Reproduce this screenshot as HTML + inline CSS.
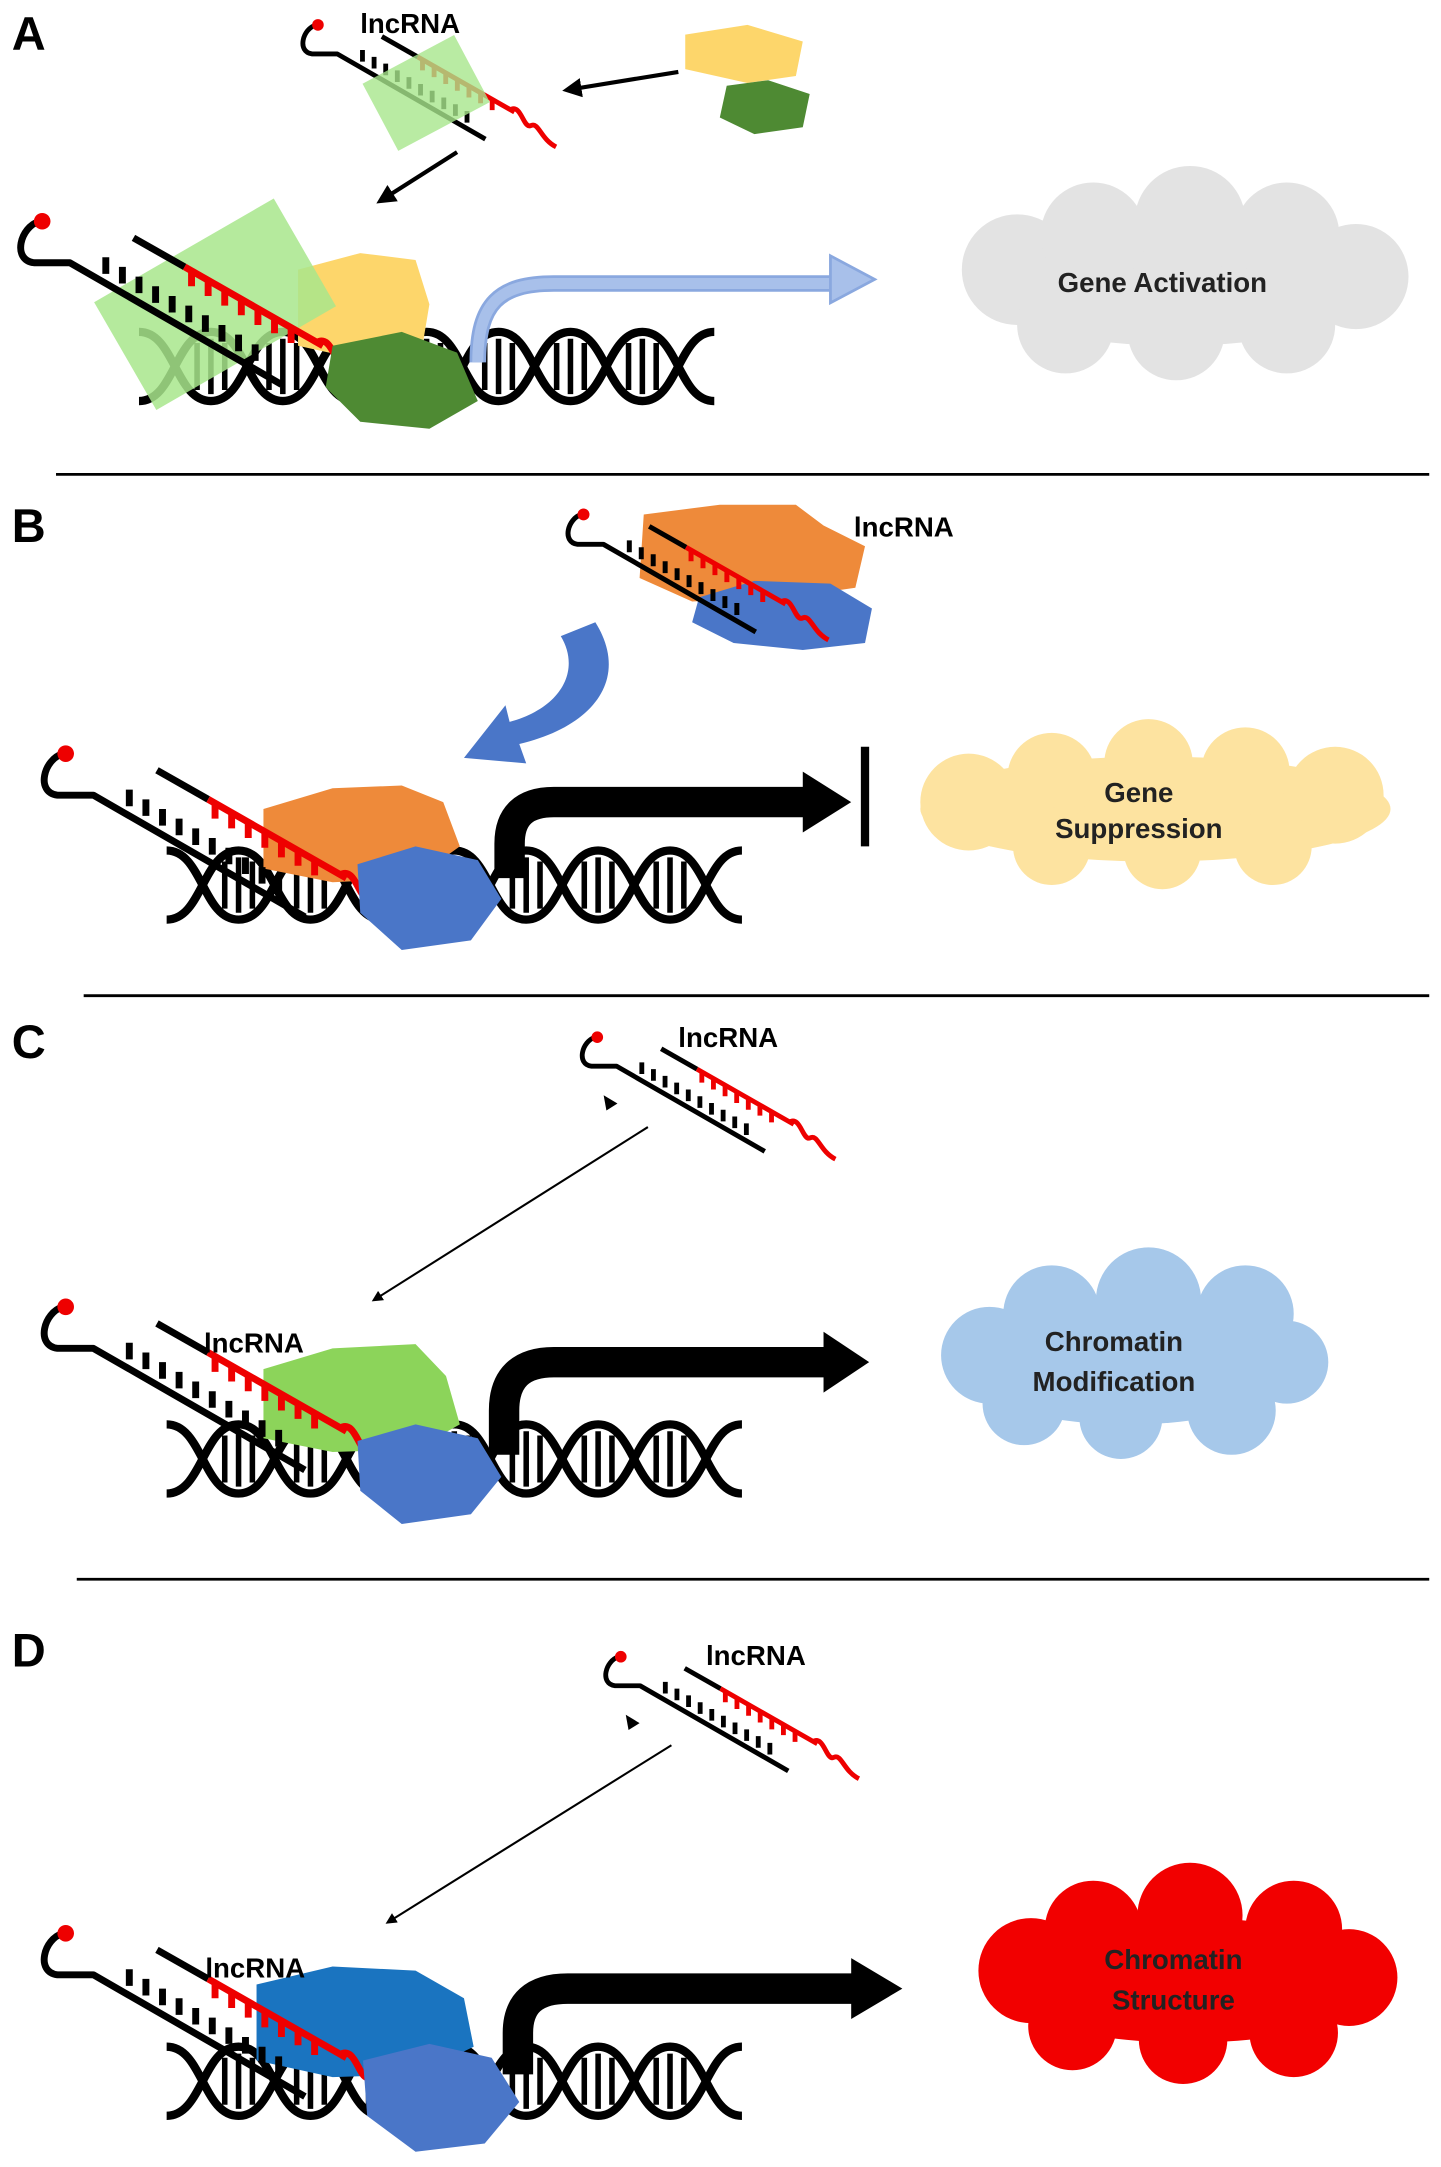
<!DOCTYPE html>
<html><head><meta charset="utf-8"><style>
html,body{margin:0;padding:0;background:#fff}
svg{display:block}
text{font-family:"Liberation Sans",sans-serif;font-weight:bold}
</style></head><body>
<svg width="1441" height="2167" viewBox="0 0 1041 1567" xmlns="http://www.w3.org/2000/svg">
<defs>
<g id="dna">
<path d="M0,-25 C26,-25 26,25 52,25 C78,25 78,-25 104,-25 C130,-25 130,25 156,25 C182,25 182,-25 208,-25 C234,-25 234,25 260,25 C286,25 286,-25 312,-25 C338,-25 338,25 364,25 C390,25 390,-25 416,-25" fill="none" stroke="#000" stroke-width="6"/>
<path d="M0,25 C26,25 26,-25 52,-25 C78,-25 78,25 104,25 C130,25 130,-25 156,-25 C182,-25 182,25 208,25 C234,25 234,-25 260,-25 C286,-25 286,25 312,25 C338,25 338,-25 364,-25 C390,-25 390,25 416,25" fill="none" stroke="#000" stroke-width="6"/>
<g stroke="#000" stroke-width="4">
<path d="M42,-17V17M52,-20V20M62,-17V17M94,-17V17M104,-20V20M114,-17V17M146,-17V17M156,-20V20M166,-17V17M198,-17V17M208,-20V20M218,-17V17M250,-17V17M260,-20V20M270,-17V17M302,-17V17M312,-20V20M322,-17V17M354,-17V17M364,-20V20M374,-17V17"/>
</g>
</g>
<g id="rna">
<path d="M0,0 C-14,4 -20,28 -4,30 L22,30 L175,118" fill="none" stroke="#000" stroke-width="5" stroke-linejoin="round"/>
<path d="M68,12 L105,33" stroke="#000" stroke-width="5"/>
<path d="M105,33 L205,90" stroke="#e00" stroke-width="5"/>
<g stroke="#e00" stroke-width="5"><path d="M110,36v11M122,43v11M134,50v11M146,57v11M158,64v11M170,70v11M182,77v11"/></g>
<g stroke="#000" stroke-width="5"><path d="M48,38v-12M60,45v-12M72,52v-12M84,59v-12M96,66v-12M108,73v-12M120,80v-12M132,87v-12M144,94v-12M156,101v-12"/></g>
<path d="M200,88 C212,80 214,108 222,104 C230,100 232,118 248,126" fill="none" stroke="#e00" stroke-width="5"/>
<circle cx="2" cy="0" r="6" fill="#e00"/>
</g>
<marker id="ah" markerWidth="8" markerHeight="8" refX="6" refY="4" orient="auto" markerUnits="userSpaceOnUse"><path d="M0,0 L8,4 L0,8 z" fill="#000"/></marker>
<marker id="ah2" markerWidth="14" markerHeight="14" refX="10" refY="7" orient="auto" markerUnits="userSpaceOnUse"><path d="M0,0 L14,7 L0,14 z" fill="#000"/></marker>
</defs>

<!-- Panel A -->
<text x="8" y="36" font-size="34">A</text>
<g transform="translate(228,18) scale(0.7)"><use href="#rna"/></g>
<rect x="270" y="40" width="75" height="55" fill="#a8e68c" opacity="0.8" transform="rotate(-28 307 67)"/>
<text x="260" y="24" font-size="20">lncRNA</text>
<path d="M495,25 L540,18 L580,30 L575,55 L540,60 L495,50 z" fill="#fdd66b"/>
<path d="M525,62 L555,58 L585,68 L580,92 L545,97 L520,85 z" fill="#4e8a33"/>
<line x1="490" y1="52" x2="410" y2="65" stroke="#000" stroke-width="3" marker-end="url(#ah2)"/>
<line x1="330" y1="110" x2="275" y2="145" stroke="#000" stroke-width="3" marker-end="url(#ah2)"/>
<g transform="translate(100,265)"><use href="#dna"/></g>
<path d="M215,195 L260,183 L300,188 L310,220 L305,250 L260,260 L215,250 z" fill="#fdd66b"/>
<rect x="80" y="175" width="150" height="90" fill="#a8e68c" opacity="0.85" transform="rotate(-30 155 220)"/>
<g transform="translate(28,160)"><use href="#rna"/></g>
<path d="M240,250 L290,240 L330,255 L345,290 L310,310 L260,305 L235,280 z" fill="#4e8a33"/>
<path d="M345,262 C345,220 360,205 400,205 L600,205" fill="none" stroke="#8aa8df" stroke-width="12"/>
<path d="M345,262 C345,220 360,205 400,205 L600,205" fill="none" stroke="#a8c0ea" stroke-width="8"/>
<path d="M600,185 L632,202 L600,219 z" fill="#a8c0ea" stroke="#8aa8df" stroke-width="2"/>
<g fill="#e3e3e3">
<ellipse cx="850" cy="205" rx="150" ry="45"/><circle cx="735" cy="195" r="40"/><circle cx="790" cy="170" r="38"/><circle cx="860" cy="160" r="40"/><circle cx="930" cy="170" r="38"/><circle cx="980" cy="200" r="38"/><circle cx="930" cy="235" r="35"/><circle cx="850" cy="240" r="35"/><circle cx="770" cy="235" r="35"/>
</g>
<text x="840" y="211" font-size="20" text-anchor="middle" fill="#222">Gene Activation</text>
<line x1="40" y1="343" x2="1033" y2="343" stroke="#000" stroke-width="2"/>

<!-- Panel B -->
<text x="8" y="392" font-size="34">B</text>
<path d="M465,372 L520,365 L575,365 L595,380 L625,395 L618,425 L570,432 L500,435 L462,418 z" fill="#ee8a3a"/>
<path d="M505,432 L545,420 L600,422 L630,440 L625,465 L580,470 L530,465 L500,450 z" fill="#4a76c8"/>
<g transform="translate(420,372) scale(0.72)"><use href="#rna"/></g>
<text x="617" y="388" font-size="20">lncRNA</text>
<path d="M430,450 C455,490 430,525 375,538 L380,552 L335,548 L365,510 L368,522 C405,512 420,485 405,460 z" fill="#4a76c8"/>
<g transform="translate(120,640)"><use href="#dna"/></g>
<path d="M190,585 L240,570 L290,568 L320,580 L332,612 L300,635 L240,638 L190,628 z" fill="#ee8a3a"/>
<g transform="translate(45,545)"><use href="#rna"/></g>
<path d="M258,625 L300,612 L345,622 L362,650 L340,680 L290,687 L260,660 z" fill="#4a76c8"/>
<path d="M368,635 L368,610 Q368,580 400,580 L585,580" fill="none" stroke="#000" stroke-width="22"/>
<path d="M580,558 L615,580 L580,602 z" fill="#000"/>
<line x1="625" y1="540" x2="625" y2="612" stroke="#000" stroke-width="6"/>
<g fill="#fde3a0">
<ellipse cx="835" cy="585" rx="170" ry="38"/><circle cx="700" cy="580" r="35"/><circle cx="760" cy="562" r="32"/><circle cx="830" cy="552" r="32"/><circle cx="900" cy="558" r="32"/><circle cx="965" cy="575" r="35"/><circle cx="920" cy="612" r="28"/><circle cx="840" cy="615" r="28"/><circle cx="760" cy="612" r="28"/>
</g>
<text x="823" y="580" font-size="20" text-anchor="middle" fill="#222">Gene</text>
<text x="823" y="606" font-size="20" text-anchor="middle" fill="#222">Suppression</text>
<line x1="60" y1="720" x2="1033" y2="720" stroke="#000" stroke-width="2"/>

<!-- Panel C -->
<text x="8" y="765" font-size="34">C</text>
<g transform="translate(430,750) scale(0.7)"><use href="#rna"/></g>
<text x="490" y="757" font-size="20">lncRNA</text>
<path d="M436,792 L446,798 L438,803 z" fill="#000"/>
<line x1="468" y1="815" x2="270" y2="940" stroke="#000" stroke-width="1.5" marker-end="url(#ah)"/>
<g transform="translate(120,1055)"><use href="#dna"/></g>
<path d="M190,990 L240,975 L300,972 L322,995 L332,1030 L300,1048 L240,1050 L190,1040 z" fill="#8cd45a"/>
<g transform="translate(45,945)"><use href="#rna"/></g>
<text x="147" y="978" font-size="20">lncRNA</text>
<path d="M258,1042 L300,1030 L345,1040 L362,1068 L340,1095 L290,1102 L260,1078 z" fill="#4a76c8"/>
<path d="M364,1052 L364,1020 Q364,985 400,985 L600,985" fill="none" stroke="#000" stroke-width="22"/>
<path d="M595,963 L628,985 L595,1007 z" fill="#000"/>
<g fill="#a6c8ea">
<ellipse cx="815" cy="985" rx="130" ry="45"/><circle cx="715" cy="980" r="35"/><circle cx="760" cy="950" r="35"/><circle cx="830" cy="940" r="38"/><circle cx="900" cy="950" r="35"/><circle cx="930" cy="985" r="30"/><circle cx="890" cy="1020" r="32"/><circle cx="810" cy="1025" r="30"/><circle cx="740" cy="1015" r="30"/>
</g>
<text x="805" y="977" font-size="20" text-anchor="middle" fill="#222">Chromatin</text>
<text x="805" y="1006" font-size="20" text-anchor="middle" fill="#222">Modification</text>
<line x1="55" y1="1142" x2="1033" y2="1142" stroke="#000" stroke-width="2"/>

<!-- Panel D -->
<text x="8" y="1205" font-size="34">D</text>
<g transform="translate(447,1198) scale(0.7)"><use href="#rna"/></g>
<text x="510" y="1204" font-size="20">lncRNA</text>
<path d="M452,1240 L462,1246 L454,1251 z" fill="#000"/>
<line x1="485" y1="1262" x2="280" y2="1390" stroke="#000" stroke-width="1.5" marker-end="url(#ah)"/>
<g transform="translate(120,1505)"><use href="#dna"/></g>
<path d="M185,1435 L240,1422 L300,1425 L335,1445 L342,1480 L300,1500 L240,1502 L185,1490 z" fill="#1a74c0"/>
<g transform="translate(45,1398)"><use href="#rna"/></g>
<text x="148" y="1430" font-size="20">lncRNA</text>
<path d="M262,1490 L310,1478 L355,1488 L375,1520 L350,1550 L300,1556 L265,1530 z" fill="#4a76c8"/>
<path d="M374,1500 L374,1470 Q374,1438 410,1438 L620,1438" fill="none" stroke="#000" stroke-width="22"/>
<path d="M615,1416 L652,1438 L615,1460 z" fill="#000"/>
<g fill="#f20000">
<ellipse cx="858" cy="1432" rx="150" ry="45"/><circle cx="745" cy="1425" r="38"/><circle cx="790" cy="1395" r="35"/><circle cx="860" cy="1385" r="38"/><circle cx="935" cy="1395" r="35"/><circle cx="975" cy="1430" r="35"/><circle cx="935" cy="1470" r="32"/><circle cx="855" cy="1475" r="32"/><circle cx="775" cy="1465" r="32"/>
</g>
<text x="848" y="1424" font-size="20" text-anchor="middle" fill="#222">Chromatin</text>
<text x="848" y="1453" font-size="20" text-anchor="middle" fill="#222">Structure</text>
</svg>
</body></html>
